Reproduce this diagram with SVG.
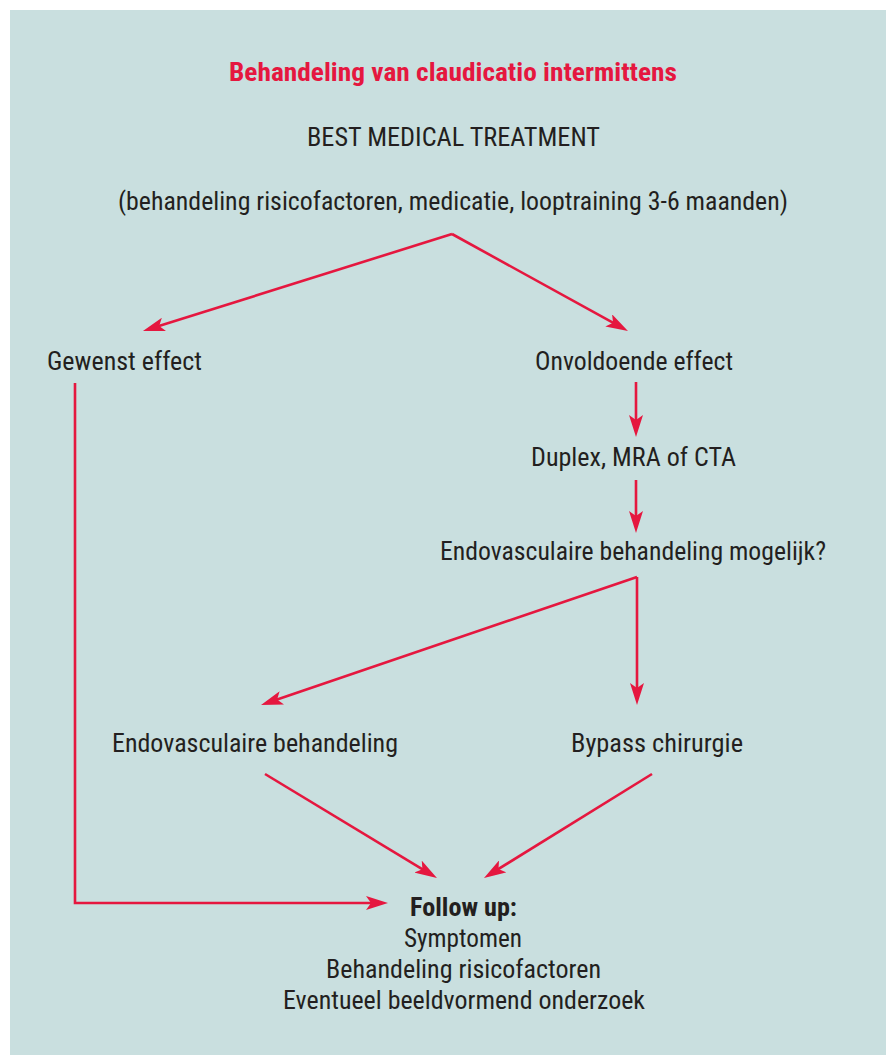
<svg xmlns="http://www.w3.org/2000/svg" width="886" height="1055" viewBox="0 0 886 1055">
<style>
.t{font-family:"Liberation Sans Narrow","Roboto Condensed","Liberation Sans",Arial,sans-serif;font-size:25px;fill:#231f20}
.b{font-weight:bold}
.title{font-family:"Liberation Sans Narrow","Roboto Condensed","Liberation Sans",Arial,sans-serif;font-size:26px;font-weight:bold;fill:#e5173f}
.c{fill:none;stroke:#e5173f;stroke-width:2.6;marker-end:url(#ah)}
</style>
<defs>
<marker id="ah" markerUnits="userSpaceOnUse" viewBox="0 0 22 14" markerWidth="22" markerHeight="14" refX="12" refY="7" orient="auto">
<path d="M22,7 L0,0 L5,7 L0,14 Z" fill="#e5173f"/>
</marker>
</defs>
<rect x="10" y="10" width="876" height="1045" fill="#c9dfdf"/>
<g id="title"><text class="title" x="229" y="81" textLength="448" lengthAdjust="spacingAndGlyphs">Behandeling van claudicatio intermittens</text></g>
<g id="bmt">
<text class="t" x="307" y="146" textLength="293" lengthAdjust="spacingAndGlyphs">BEST MEDICAL TREATMENT</text>
<text class="t" x="118" y="210" textLength="670" lengthAdjust="spacingAndGlyphs">(behandeling risicofactoren, medicatie, looptraining 3-6 maanden)</text>
</g>
<g id="gewenst"><text class="t" x="47" y="370" textLength="155" lengthAdjust="spacingAndGlyphs">Gewenst effect</text></g>
<g id="onvoldoende"><text class="t" x="535" y="370" textLength="198" lengthAdjust="spacingAndGlyphs">Onvoldoende effect</text></g>
<g id="duplex"><text class="t" x="531" y="466" textLength="205" lengthAdjust="spacingAndGlyphs">Duplex, MRA of CTA</text></g>
<g id="mogelijk"><text class="t" x="440" y="560" textLength="386" lengthAdjust="spacingAndGlyphs">Endovasculaire behandeling mogelijk?</text></g>
<g id="endo"><text class="t" x="112" y="752" textLength="286" lengthAdjust="spacingAndGlyphs">Endovasculaire behandeling</text></g>
<g id="bypass"><text class="t" x="571" y="752" textLength="172" lengthAdjust="spacingAndGlyphs">Bypass chirurgie</text></g>
<g id="followup">
<text class="t b" x="410" y="916" textLength="107" lengthAdjust="spacingAndGlyphs">Follow up:</text>
<text class="t" x="404" y="947" textLength="118" lengthAdjust="spacingAndGlyphs">Symptomen</text>
<text class="t" x="326" y="978" textLength="275" lengthAdjust="spacingAndGlyphs">Behandeling risicofactoren</text>
<text class="t" x="283" y="1009" textLength="362" lengthAdjust="spacingAndGlyphs">Eventueel beeldvormend onderzoek</text>
</g>
<g id="connectors">
<path class="c" d="M452,234 L152.5,328"/>
<path class="c" d="M452,234 L619.2,326.2"/>
<path class="c" d="M636,382 L636,427"/>
<path class="c" d="M636,480 L636,523"/>
<path class="c" d="M637,577 L270.5,701.8"/>
<path class="c" d="M637,577 L637,695"/>
<path class="c" d="M265,774 L428.4,872.8"/>
<path class="c" d="M652,774 L492.5,872.7"/>
<path class="c" d="M75,383 V903 H378"/>
</g>
</svg>
